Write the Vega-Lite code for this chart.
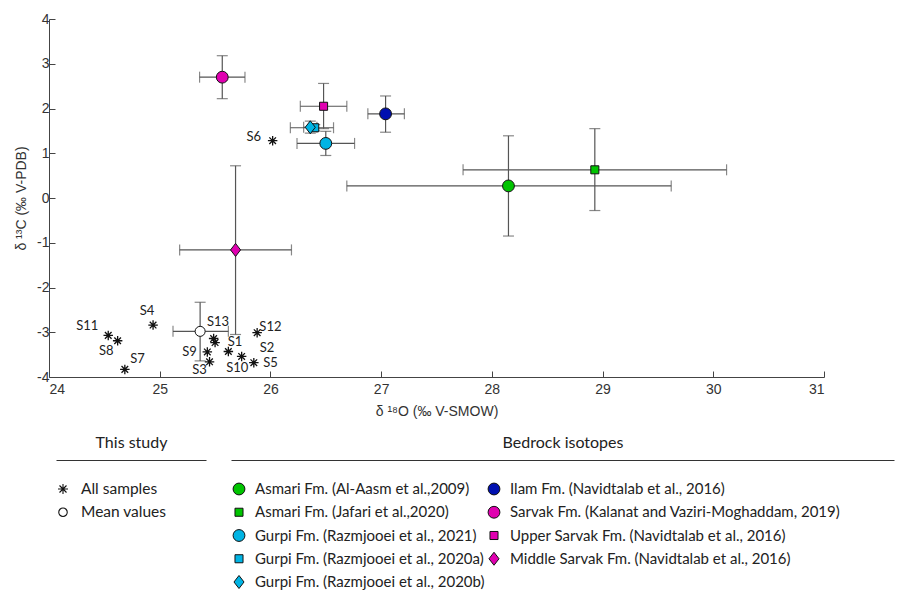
{
  "$schema": "https://vega.github.io/schema/vega-lite/v6.json",
  "background": "white",
  "padding": {"left": 14, "top": 12, "right": 5, "bottom": 5},
  "bounds": "flush",
  "spacing": 83,
  "config": {
    "view": {"stroke": null},
    "font": "Lato",
    "axis": {"labelFont": "Liberation Sans", "titleFont": "Liberation Sans", "labelColor": "#333", "titleColor": "#333", "domainColor": "#444", "tickColor": "#444", "grid": false}
  },
  "datasets": {
    "samples": [
      {"sample": "S1", "d18O": 25.62, "d13C": -3.43, "kind": "All samples"},
      {"sample": "S2", "d18O": 25.74, "d13C": -3.54, "kind": "All samples"},
      {"sample": "S3", "d18O": 25.45, "d13C": -3.66, "kind": "All samples"},
      {"sample": "S4", "d18O": 24.94, "d13C": -2.84, "kind": "All samples"},
      {"sample": "S5", "d18O": 25.85, "d13C": -3.68, "kind": "All samples"},
      {"sample": "S6", "d18O": 26.02, "d13C": 1.28, "kind": "All samples"},
      {"sample": "S7", "d18O": 24.685, "d13C": -3.83, "kind": "All samples"},
      {"sample": "S8", "d18O": 24.62, "d13C": -3.19, "kind": "All samples"},
      {"sample": "S9", "d18O": 25.43, "d13C": -3.44, "kind": "All samples"},
      {"sample": "S10", "d18O": 25.50, "d13C": -3.23, "kind": "All samples"},
      {"sample": "S11", "d18O": 24.535, "d13C": -3.07, "kind": "All samples"},
      {"sample": "S12", "d18O": 25.88, "d13C": -3.01, "kind": "All samples"},
      {"sample": "S13", "d18O": 25.487, "d13C": -3.14, "kind": "All samples"}
    ],
    "labels": [
      {"text": "S1", "lx": 25.68, "ly": -3.22},
      {"text": "S2", "lx": 25.97, "ly": -3.36},
      {"text": "S3", "lx": 25.36, "ly": -3.85},
      {"text": "S4", "lx": 24.886, "ly": -2.52},
      {"text": "S5", "lx": 26.0, "ly": -3.69},
      {"text": "S6", "lx": 25.85, "ly": 1.37},
      {"text": "S7", "lx": 24.80, "ly": -3.59},
      {"text": "S8", "lx": 24.517, "ly": -3.425},
      {"text": "S9", "lx": 25.27, "ly": -3.44},
      {"text": "S10", "lx": 25.70, "ly": -3.79},
      {"text": "S11", "lx": 24.346, "ly": -2.865},
      {"text": "S12", "lx": 26.0, "ly": -2.88},
      {"text": "S13", "lx": 25.526, "ly": -2.77}
    ],
    "groups": [
      {"kind": "Mean values", "d18O": 25.365, "d13C": -2.98, "xlo": 25.12, "xhi": 25.62, "ylo": -3.64, "yhi": -2.33},
      {"kind": "Asmari Fm. (Al-Aasm et al.,2009)", "d18O": 28.15, "d13C": 0.27, "xlo": 26.69, "xhi": 29.62, "ylo": -0.85, "yhi": 1.39},
      {"kind": "Asmari Fm. (Jafari et al.,2020)", "d18O": 28.93, "d13C": 0.63, "xlo": 27.74, "xhi": 30.12, "ylo": -0.28, "yhi": 1.55},
      {"kind": "Gurpi Fm. (Razmjooei et al., 2021)", "d18O": 26.50, "d13C": 1.22, "xlo": 26.24, "xhi": 26.76, "ylo": 0.95, "yhi": 1.49},
      {"kind": "Gurpi Fm. (Razmjooei et al., 2020a)", "d18O": 26.40, "d13C": 1.57, "xlo": 26.18, "xhi": 26.57, "ylo": 1.50, "yhi": 1.64},
      {"kind": "Gurpi Fm. (Razmjooei et al., 2020b)", "d18O": 26.36, "d13C": 1.58, "xlo": 26.30, "xhi": 26.42, "ylo": 1.45, "yhi": 1.72},
      {"kind": "Ilam Fm. (Navidtalab et al., 2016)", "d18O": 27.04, "d13C": 1.88, "xlo": 26.88, "xhi": 27.21, "ylo": 1.47, "yhi": 2.28},
      {"kind": "Sarvak Fm. (Kalanat and Vaziri-Moghaddam, 2019)", "d18O": 25.565, "d13C": 2.70, "xlo": 25.36, "xhi": 25.77, "ylo": 2.22, "yhi": 3.18},
      {"kind": "Upper Sarvak Fm. (Navidtalab et al., 2016)", "d18O": 26.48, "d13C": 2.05, "xlo": 26.27, "xhi": 26.69, "ylo": 1.55, "yhi": 2.56},
      {"kind": "Middle Sarvak Fm. (Navidtalab et al., 2016)", "d18O": 25.685, "d13C": -1.16, "xlo": 25.18, "xhi": 26.19, "ylo": -3.05, "yhi": 0.72}
    ],
    "legendStudy": [
      {"kind": "All samples", "col": "a", "row": 1},
      {"kind": "Mean values", "col": "a", "row": 2}
    ],
    "legendBedrock": [
      {"kind": "Asmari Fm. (Al-Aasm et al.,2009)", "col": "a", "row": 1},
      {"kind": "Asmari Fm. (Jafari et al.,2020)", "col": "a", "row": 2},
      {"kind": "Gurpi Fm. (Razmjooei et al., 2021)", "col": "a", "row": 3},
      {"kind": "Gurpi Fm. (Razmjooei et al., 2020a)", "col": "a", "row": 4},
      {"kind": "Gurpi Fm. (Razmjooei et al., 2020b)", "col": "a", "row": 5},
      {"kind": "Ilam Fm. (Navidtalab et al., 2016)", "col": "b", "row": 1},
      {"kind": "Sarvak Fm. (Kalanat and Vaziri-Moghaddam, 2019)", "col": "b", "row": 2},
      {"kind": "Upper Sarvak Fm. (Navidtalab et al., 2016)", "col": "b", "row": 3},
      {"kind": "Middle Sarvak Fm. (Navidtalab et al., 2016)", "col": "b", "row": 4}
    ]
  },
  "resolve": {"scale": {"color": "shared", "shape": "shared"}},
  "vconcat": [
    {
      "width": 775,
      "height": 358,
      "layer": [
        {
          "data": {"name": "groups"},
          "mark": {"type": "errorbar", "color": "#555", "thickness": 1.2, "ticks": {"size": 11, "thickness": 1.2, "color": "#555"}},
          "encoding": {
            "x": {"field": "xlo", "type": "quantitative", "scale": {"domain": [24, 31]}, "title": "δ ¹⁸O (‰ V-SMOW)"},
            "x2": {"field": "xhi"},
            "y": {"field": "d13C", "type": "quantitative", "scale": {"domain": [-4, 4]}, "title": "δ ¹³C (‰ V-PDB)"}
          }
        },
        {
          "data": {"name": "groups"},
          "mark": {"type": "errorbar", "color": "#555", "thickness": 1.2, "ticks": {"size": 11, "thickness": 1.2, "color": "#555"}},
          "encoding": {
            "y": {"field": "ylo", "type": "quantitative", "title": "δ ¹³C (‰ V-PDB)"},
            "y2": {"field": "yhi"},
            "x": {"field": "d18O", "type": "quantitative", "title": "δ ¹⁸O (‰ V-SMOW)"}
          }
        },
        {
          "data": {"name": "groups"},
          "mark": {"type": "point", "filled": true, "stroke": "#111", "strokeWidth": 1, "opacity": 1, "size": 140},
          "encoding": {
            "x": {"field": "d18O", "type": "quantitative", "scale": {"domain": [24, 31]},
              "axis": {"title": "δ ¹⁸O (‰ V-SMOW)", "values": [24, 25, 26, 27, 28, 29, 30, 31], "format": "d", "tickSize": -6, "labelPadding": 11, "labelFontSize": 14, "titleFontSize": 14, "titleFontWeight": "normal", "titlePadding": 8}},
            "y": {"field": "d13C", "type": "quantitative", "scale": {"domain": [-4, 4]},
              "axis": {"title": "δ ¹³C (‰ V-PDB)", "values": [-4, -3, -2, -1, 0, 1, 2, 3, 4], "format": "d", "labelExpr": "replace(datum.label, '\u2212', '-')", "tickSize": -6, "labelPadding": 6, "labelFontSize": 14, "titleFontSize": 14, "titleFontWeight": "normal", "titlePadding": 8}},
            "color": {"field": "kind", "type": "nominal", "legend": null,
              "scale": {
                "domain": ["All samples", "Mean values", "Asmari Fm. (Al-Aasm et al.,2009)", "Asmari Fm. (Jafari et al.,2020)", "Gurpi Fm. (Razmjooei et al., 2021)", "Gurpi Fm. (Razmjooei et al., 2020a)", "Gurpi Fm. (Razmjooei et al., 2020b)", "Ilam Fm. (Navidtalab et al., 2016)", "Sarvak Fm. (Kalanat and Vaziri-Moghaddam, 2019)", "Upper Sarvak Fm. (Navidtalab et al., 2016)", "Middle Sarvak Fm. (Navidtalab et al., 2016)"],
                "range": ["#111111", "#ffffff", "#00c400", "#00c400", "#00b4e4", "#00b4e4", "#00b4e4", "#0010b0", "#e000b0", "#e000b0", "#e000b0"]
              }},
            "shape": {"field": "kind", "type": "nominal", "legend": null,
              "scale": {
                "domain": ["All samples", "Mean values", "Asmari Fm. (Al-Aasm et al.,2009)", "Asmari Fm. (Jafari et al.,2020)", "Gurpi Fm. (Razmjooei et al., 2021)", "Gurpi Fm. (Razmjooei et al., 2020a)", "Gurpi Fm. (Razmjooei et al., 2020b)", "Ilam Fm. (Navidtalab et al., 2016)", "Sarvak Fm. (Kalanat and Vaziri-Moghaddam, 2019)", "Upper Sarvak Fm. (Navidtalab et al., 2016)", "Middle Sarvak Fm. (Navidtalab et al., 2016)"],
                "range": [
                  "M-1,0L1,0M0,-1L0,1M-0.7,-0.7L0.7,0.7M-0.7,0.7L0.7,-0.7",
                  "M0.85,0A0.85,0.85,0,1,1,-0.85,0A0.85,0.85,0,1,1,0.85,0Z",
                  "circle",
                  "M-0.68,-0.68L0.68,-0.68L0.68,0.68L-0.68,0.68Z",
                  "circle",
                  "M-0.68,-0.68L0.68,-0.68L0.68,0.68L-0.68,0.68Z",
                  "M0,-1.1L0.85,0L0,1.1L-0.85,0Z",
                  "circle",
                  "circle",
                  "M-0.68,-0.68L0.68,-0.68L0.68,0.68L-0.68,0.68Z",
                  "M0,-1.1L0.85,0L0,1.1L-0.85,0Z"
                ]
              }}
          }
        },
        {
          "data": {"name": "samples"},
          "mark": {"type": "point", "filled": true, "stroke": "#111", "strokeWidth": 1.3, "opacity": 1, "size": 90},
          "encoding": {
            "x": {"field": "d18O", "type": "quantitative"},
            "y": {"field": "d13C", "type": "quantitative"},
            "color": {"field": "kind", "type": "nominal", "legend": null},
            "shape": {"field": "kind", "type": "nominal", "legend": null}
          }
        },
        {
          "data": {"name": "labels"},
          "mark": {"type": "text", "fontSize": 13, "font": "Lato", "color": "#222"},
          "encoding": {
            "x": {"field": "lx", "type": "quantitative"},
            "y": {"field": "ly", "type": "quantitative"},
            "text": {"field": "text"}
          }
        }
      ]
    },
    {
      "bounds": "flush",
      "spacing": 25,
      "hconcat": [
        {
          "width": 157,
          "height": 130,
          "data": {"name": "legendStudy"},
          "layer": [
            {
              "mark": {"type": "point", "filled": true, "stroke": "#111", "strokeWidth": 1.1, "opacity": 1, "size": 100, "xOffset": 7},
              "encoding": {
                "x": {"field": "col", "type": "nominal", "scale": {"type": "point", "range": [7, 157], "padding": 0, "align": 0},
                  "axis": {"orient": "top", "title": "This study", "labels": false, "ticks": false, "domainColor": "#333", "titleFont": "Lato", "titleFontSize": 16, "titleFontWeight": "normal", "titleColor": "#222", "titlePadding": 10}},
                "y": {"field": "row", "type": "ordinal", "scale": {"type": "point", "domain": [1, 2, 3, 4, 5], "range": [29, 122], "padding": 0}, "axis": null},
                "color": {"field": "kind", "type": "nominal", "legend": null},
                "shape": {"field": "kind", "type": "nominal", "legend": null}
              }
            },
            {
              "mark": {"type": "text", "align": "left", "baseline": "middle", "fontSize": 15.5, "color": "#222", "xOffset": 25},
              "encoding": {
                "x": {"field": "col", "type": "nominal"},
                "y": {"field": "row", "type": "ordinal"},
                "text": {"field": "kind"}
              }
            }
          ]
        },
        {
          "width": 663,
          "height": 130,
          "data": {"name": "legendBedrock"},
          "layer": [
            {
              "mark": {"type": "point", "filled": true, "stroke": "#111", "strokeWidth": 1, "opacity": 1, "size": 140, "xOffset": 8},
              "encoding": {
                "x": {"field": "col", "type": "nominal", "scale": {"type": "point", "padding": 0.8, "align": 0},
                  "axis": {"orient": "top", "title": "Bedrock isotopes", "labels": false, "ticks": false, "domainColor": "#333", "titleFont": "Lato", "titleFontSize": 16, "titleFontWeight": "normal", "titleColor": "#222", "titlePadding": 10}},
                "y": {"field": "row", "type": "ordinal", "scale": {"type": "point", "domain": [1, 2, 3, 4, 5], "range": [29, 122], "padding": 0}, "axis": null},
                "color": {"field": "kind", "type": "nominal", "legend": null},
                "shape": {"field": "kind", "type": "nominal", "legend": null}
              }
            },
            {
              "mark": {"type": "text", "align": "left", "baseline": "middle", "fontSize": 15, "color": "#222", "xOffset": 24},
              "encoding": {
                "x": {"field": "col", "type": "nominal"},
                "y": {"field": "row", "type": "ordinal"},
                "text": {"field": "kind"}
              }
            }
          ]
        }
      ]
    }
  ],
  "encoding": {}
}
